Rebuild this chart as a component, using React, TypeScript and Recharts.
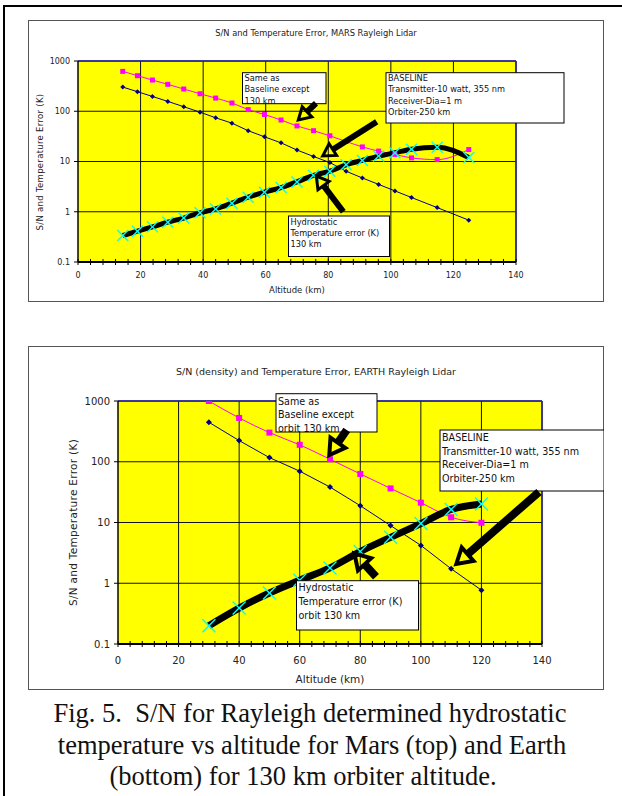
import React from 'react';
import { LineChart, Line, XAxis, YAxis, CartesianGrid, ReferenceLine } from 'recharts';

const SANS = '"DejaVu Sans", Verdana, sans-serif';
const SERIF = '"Liberation Serif", "Times New Roman", serif';

// ---- Mars Rayleigh lidar (altitude in km) ----
const marsAltitude = [14.3, 19.0, 23.8, 28.7, 33.8, 39.0, 44.0, 49.2, 54.4, 59.6, 64.9, 70.0, 75.3, 80.5, 85.7, 90.9, 96.1, 101.3, 106.6, 114.8, 124.9];
const marsSnOrbit130 = [622, 510, 418, 343, 277, 223, 183, 146, 108, 86, 67, 51, 41, 32.5, 25, 19.5, 16.1, 13.8, 11.8, 10.9, 17.3];
const marsSnBaseline = [303, 245, 197, 157, 123, 96, 74, 58, 41, 31, 23.5, 16.9, 12.6, 9.5, 6.4, 4.7, 3.5, 2.6, 1.92, 1.21, 0.68];
const marsTempError = [0.335, 0.41, 0.5, 0.62, 0.75, 0.95, 1.14, 1.48, 1.95, 2.45, 3.03, 3.93, 5.3, 6.4, 8.6, 10.5, 12.8, 14.9, 17.6, 19.3, 12.0];

// ---- Earth Rayleigh lidar ----
const earthAltitude = [30, 40, 50, 60, 70, 80, 90, 100, 110, 120];
const earthSnOrbit130 = [1000, 526, 302, 190, 110, 63, 36.4, 21.2, 12.2, 9.9];
const earthSnBaseline = [447, 223, 117, 70, 38.3, 18.9, 8.9, 4.2, 1.73, 0.77];
const earthTempError = [0.2, 0.39, 0.69, 1.12, 1.79, 3.32, 5.7, 9.6, 16.4, 20.1];

// ---- axis ticks ----
const altitudeLabels = [0, 20, 40, 60, 80, 100, 120, 140];
const altitudeMinorTicks = [0, 4, 8, 12, 16, 20, 24, 28, 32, 36, 40, 44, 48, 52, 56, 60, 64, 68, 72, 76, 80, 84, 88, 92, 96, 100, 104, 108, 112, 116, 120, 124, 128, 132, 136, 140];
const decadeTicks = [0.1, 1, 10, 100, 1000];

type Row = { alt: number; sn130: number; sn250: number; terr: number };

const buildRows = (alt: number[], sn130: number[], sn250: number[], terr: number[]): Row[] =>
  alt.map((a, i) => ({ alt: a, sn130: sn130[i], sn250: sn250[i], terr: terr[i] }));

const marsRows = buildRows(marsAltitude, marsSnOrbit130, marsSnBaseline, marsTempError);
const earthRows = buildRows(earthAltitude, earthSnOrbit130, earthSnBaseline, earthTempError);

type Callout = { x: number; y: number; w: number; h: number; lines: string[]; lineY: number[] };
type Arrow = { x1: number; y1: number; x2: number; y2: number };
type ArrowStyle = { shaft: number; head: number; half: number; outline: number };

interface PanelProps {
  left: number;
  top: number;
  width: number;
  height: number;
  rows: Row[];
  margin: { top: number; right: number; bottom: number; left: number };
  yAxisWidth: number;
  xAxisHeight: number;
  tickFont: number;
  xLabelGap: number;
  title: string;
  titleAt: [number, number];
  titleFont: number;
  yLabelAt: [number, number];
  xLabelAt: [number, number];
  labelFont: number;
  calloutFont: number;
  callouts: Callout[];
  arrows: Arrow[];
  arrowStyle: ArrowStyle;
  marker: number;
  errorWidth: number;
}

const makeAltitudeTick = (fontSize: number, gap: number) => (props: any) => {
  const { x, y, payload } = props;
  const v = payload.value;
  return (
    <g>
      <line x1={x} x2={x} y1={y - 3} y2={y + 3} stroke="#000" strokeWidth={1} />
      {altitudeLabels.includes(v) && (
        <text x={x} y={y + gap} textAnchor="middle" dominantBaseline="central" fontSize={fontSize} fontFamily={SANS} fill="#222">
          {v}
        </text>
      )}
    </g>
  );
};

const makeSquareDot = (size: number) => (p: any) => {
  if (p.cx == null || p.cy == null) return <g key={p.index} />;
  return <rect key={p.index} x={p.cx - size / 2} y={p.cy - size / 2} width={size} height={size} fill="#FF00FF" />;
};

const makeDiamondDot = (half: number) => (p: any) => {
  if (p.cx == null || p.cy == null) return <g key={p.index} />;
  const { cx, cy } = p;
  return <polygon key={p.index} points={`${cx},${cy - half} ${cx + half},${cy} ${cx},${cy + half} ${cx - half},${cy}`} fill="#000080" />;
};

const makeCrossDot = (half: number) => (p: any) => {
  if (p.cx == null || p.cy == null) return <g key={p.index} />;
  const { cx, cy } = p;
  return (
    <g key={p.index} stroke="#00FFFF" strokeWidth={1.4}>
      <line x1={cx - half} y1={cy - half} x2={cx + half} y2={cy + half} />
      <line x1={cx - half} y1={cy + half} x2={cx + half} y2={cy - half} />
    </g>
  );
};

function ArrowMark({ a, s }: { a: Arrow; s: ArrowStyle }) {
  const dx = a.x2 - a.x1;
  const dy = a.y2 - a.y1;
  const len = Math.hypot(dx, dy);
  const ux = dx / len;
  const uy = dy / len;
  const bx = a.x2 - ux * s.head;
  const by = a.y2 - uy * s.head;
  const nx = -uy;
  const ny = ux;
  const pts = `${a.x2},${a.y2} ${bx + nx * s.half},${by + ny * s.half} ${bx - nx * s.half},${by - ny * s.half}`;
  return (
    <g>
      <line x1={a.x1} y1={a.y1} x2={bx} y2={by} stroke="#000" strokeWidth={s.shaft} />
      <polygon points={pts} fill="none" stroke="#000" strokeWidth={s.outline} strokeLinejoin="miter" />
    </g>
  );
}

function Panel(p: PanelProps) {
  return (
    <div style={{ position: 'absolute', left: p.left, top: p.top, width: p.width, height: p.height, background: '#fff' }}>
      <LineChart width={p.width} height={p.height} data={p.rows} margin={p.margin}>
        <CartesianGrid
          fill="#FFFF00"
          fillOpacity={1}
          stroke="#111"
          strokeWidth={1}
          horizontalValues={decadeTicks}
          verticalValues={altitudeLabels}
        />
        <XAxis
          dataKey="alt"
          type="number"
          domain={[0, 140]}
          ticks={altitudeMinorTicks}
          interval={0}
          allowDataOverflow
          height={p.xAxisHeight}
          tickSize={0}
          tickMargin={0}
          tickLine={false}
          axisLine={{ stroke: '#000', strokeWidth: 2 }}
          tick={makeAltitudeTick(p.tickFont, p.xLabelGap)}
        />
        <YAxis
          type="number"
          scale="log"
          domain={[0.1, 1000]}
          ticks={decadeTicks}
          interval={0}
          allowDataOverflow
          width={p.yAxisWidth}
          tickSize={4}
          tickMargin={4}
          tickLine={{ stroke: '#000' }}
          axisLine={{ stroke: '#000' }}
          tick={{ fontSize: p.tickFont, fontFamily: SANS, fill: '#222' }}
          tickFormatter={(v: number) => String(v)}
        />
        <ReferenceLine y={1000} stroke="#1f1fa8" strokeWidth={1.5} />
        <ReferenceLine x={140} stroke="#1f1fa8" strokeWidth={1.5} />
        <Line
          dataKey="sn130"
          type="monotone"
          stroke="#FF00FF"
          strokeWidth={1}
          dot={makeSquareDot(p.marker + 1)}
          activeDot={false}
          connectNulls
          isAnimationActive={false}
        />
        <Line
          dataKey="sn250"
          type="linear"
          stroke="#000080"
          strokeWidth={1}
          dot={makeDiamondDot(p.marker / 2 + 0.5)}
          activeDot={false}
          isAnimationActive={false}
        />
        <Line
          dataKey="terr"
          type="monotone"
          stroke="#000"
          strokeWidth={p.errorWidth}
          dot={makeCrossDot(p.marker + 1.5)}
          activeDot={false}
          isAnimationActive={false}
        />
      </LineChart>
      <svg
        width={p.width}
        height={p.height}
        style={{ position: 'absolute', left: 0, top: 0, pointerEvents: 'none' }}
        fontFamily={SANS}
      >
        <rect x={0.5} y={0.5} width={p.width - 1} height={p.height - 1} fill="none" stroke="#555" strokeWidth={1} />
        <text x={p.titleAt[0]} y={p.titleAt[1]} textAnchor="middle" dominantBaseline="central" fontSize={p.titleFont} fill="#222">
          {p.title}
        </text>
        <text
          transform={`translate(${p.yLabelAt[0]},${p.yLabelAt[1]}) rotate(-90)`}
          textAnchor="middle"
          dominantBaseline="central"
          fontSize={p.labelFont}
          letterSpacing={0.3}
          fill="#222"
        >
          S/N and Temperature Error (K)
        </text>
        <text x={p.xLabelAt[0]} y={p.xLabelAt[1]} textAnchor="middle" dominantBaseline="central" fontSize={p.labelFont} fill="#222">
          Altitude (km)
        </text>
        {p.callouts.map((c, i) => (
          <g key={`c${i}`}>
            <rect x={c.x} y={c.y} width={c.w} height={c.h} fill="#fff" stroke="#000" strokeWidth={1} />
            {c.lines.map((ln, j) => (
              <text key={j} x={c.x + 2} y={c.lineY[j]} dominantBaseline="central" fontSize={p.calloutFont} fill="#111">
                {ln}
              </text>
            ))}
          </g>
        ))}
        {p.arrows.map((a, i) => (
          <ArrowMark key={`a${i}`} a={a} s={p.arrowStyle} />
        ))}
      </svg>
    </div>
  );
}

export default function App() {
  return (
    <div style={{ position: 'absolute', left: 0, top: 0, width: 622, height: 796, background: '#fff', overflow: 'hidden' }}>
      <svg width={622} height={796} style={{ position: 'absolute', left: 0, top: 0 }}>
        <line x1={3} y1={6} x2={622} y2={6} stroke="#000" strokeWidth={2} />
        <line x1={4} y1={5} x2={4} y2={796} stroke="#000" strokeWidth={2} />
        <g fontFamily={SERIF} fontSize={26.5} fill="#111" textAnchor="middle">
          <text x={310} y={722}>{'Fig. 5.\u00a0 S/N for Rayleigh determined hydrostatic'}</text>
          <text x={312} y={753.5}>temperature vs altitude for Mars (top) and Earth</text>
          <text x={303} y={785}>(bottom) for 130 km orbiter altitude.</text>
        </g>
      </svg>

      <Panel
        left={28}
        top={20}
        width={576}
        height={282}
        rows={marsRows}
        margin={{ top: 41, right: 88, bottom: 0, left: 0 }}
        yAxisWidth={50}
        xAxisHeight={40}
        tickFont={8}
        xLabelGap={13}
        title="S/N and Temperature Error, MARS Rayleigh Lidar"
        titleAt={[288, 13]}
        titleFont={8.3}
        yLabelAt={[12, 142]}
        xLabelAt={[269, 270]}
        labelFont={8.5}
        calloutFont={8.2}
        callouts={[
          { x: 214.5, y: 52.7, w: 83.5, h: 31, lines: ['Same as', 'Baseline except', '130 km'], lineY: [58.3, 69.3, 81] },
          {
            x: 358,
            y: 52.7,
            w: 178,
            h: 50.3,
            lines: ['BASELINE', 'Transmitter-10 watt, 355 nm', 'Receiver-Dia=1 m', 'Orbiter-250 km'],
            lineY: [58.3, 69.3, 81, 92],
          },
          { x: 260.5, y: 196, w: 101, h: 40.5, lines: ['Hydrostatic', 'Temperature error (K)', '130 km'], lineY: [201.7, 213.3, 224] },
        ]}
        arrows={[
          { x1: 288, y1: 83.3, x2: 270.3, y2: 100 },
          { x1: 348.7, y1: 101.7, x2: 294.7, y2: 136 },
          { x1: 315.3, y1: 191.7, x2: 288.3, y2: 156 },
        ]}
        arrowStyle={{ shaft: 6, head: 12, half: 7, outline: 3 }}
        marker={4}
        errorWidth={5}
      />

      <Panel
        left={28}
        top={346}
        width={576}
        height={344}
        rows={earthRows}
        margin={{ top: 55, right: 62, bottom: 0, left: 0 }}
        yAxisWidth={90}
        xAxisHeight={46}
        tickFont={10}
        xLabelGap={16}
        title="S/N (density) and Temperature Error, EARTH Rayleigh Lidar"
        titleAt={[288, 25]}
        titleFont={9.5}
        yLabelAt={[45.4, 176.5]}
        xLabelAt={[302, 333]}
        labelFont={10.5}
        calloutFont={9.6}
        callouts={[
          { x: 248, y: 47.7, w: 101, h: 38.3, lines: ['Same as', 'Baseline except', 'orbit 130 km'], lineY: [55.7, 68.7, 82.3] },
          {
            x: 412,
            y: 84,
            w: 164,
            h: 61,
            lines: ['BASELINE', 'Transmitter-10 watt, 355 nm', 'Receiver-Dia=1 m', 'Orbiter-250 km'],
            lineY: [91.7, 105.3, 118.7, 132.3],
          },
          { x: 268.5, y: 234.7, w: 122, h: 49.3, lines: ['Hydrostatic', 'Temperature error (K)', 'orbit 130 km'], lineY: [241.7, 255.3, 269.3] },
        ]}
        arrows={[
          { x1: 318.7, y1: 84, x2: 301.3, y2: 109 },
          { x1: 511, y1: 146, x2: 428.3, y2: 218 },
          { x1: 348, y1: 230.7, x2: 326.4, y2: 207.3 },
        ]}
        arrowStyle={{ shaft: 8, head: 15, half: 9, outline: 4 }}
        marker={5}
        errorWidth={7}
      />
    </div>
  );
}
